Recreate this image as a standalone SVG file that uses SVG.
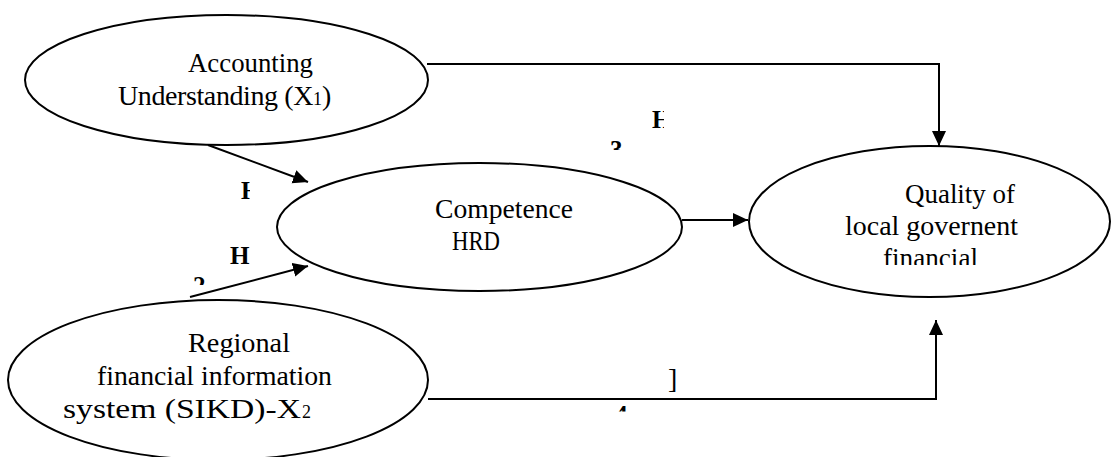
<svg xmlns="http://www.w3.org/2000/svg" width="1111" height="457" viewBox="0 0 1111 457">
<style>
.node ellipse{fill:#fff;stroke:#000;stroke-width:2}
.lbl{font-family:"Liberation Serif",serif;font-size:28px;fill:#000}
.hl{font-family:"Liberation Serif",serif;font-size:25px;font-weight:bold;fill:#000}
.conn{fill:none;stroke:#000;stroke-width:2}
</style>
<defs>
<marker id="arr" markerUnits="userSpaceOnUse" markerWidth="16" markerHeight="16" viewBox="0 0 16 16" refX="15" refY="8" orient="auto">
<path d="M0,1 L15,8 L0,15 Z" fill="#000"/>
</marker>
<clipPath id="c1"><rect x="230" y="170" width="20" height="40"/></clipPath>
<clipPath id="c3"><rect x="185" y="270" width="30" height="15"/></clipPath>
<clipPath id="c4"><rect x="645" y="100" width="19" height="40"/></clipPath>
<clipPath id="c5"><rect x="600" y="135" width="30" height="15"/></clipPath>
<clipPath id="c7"><rect x="605" y="401" width="30" height="10.5"/></clipPath>
<clipPath id="cq"><rect x="820" y="175" width="230" height="90"/></clipPath>
</defs>
<g id="connectors">
<path class="conn" d="M427,64 H939 V146" marker-end="url(#arr)"/>
<line class="conn" x1="208" y1="145" x2="308" y2="182" marker-end="url(#arr)"/>
<line class="conn" x1="190" y1="297" x2="308" y2="266" marker-end="url(#arr)"/>
<line class="conn" x1="682" y1="220" x2="748" y2="220" marker-end="url(#arr)"/>
<path class="conn" d="M428,399 H936 V320" marker-end="url(#arr)"/>
</g>
<g id="node-accounting" class="node">
<ellipse cx="226.5" cy="80" rx="201.5" ry="65"/>
<text class="lbl" x="188" y="72" textLength="125" lengthAdjust="spacingAndGlyphs">Accounting</text>
<text class="lbl" x="118" y="105" letter-spacing="-0.4">Understanding (X<tspan font-size="18" letter-spacing="0">1</tspan><tspan letter-spacing="0">)</tspan></text>
</g>
<g id="node-competence" class="node">
<ellipse cx="479.5" cy="227" rx="202.5" ry="64"/>
<text class="lbl" x="435" y="218" textLength="138" lengthAdjust="spacingAndGlyphs">Competence</text>
<text class="lbl" x="452" y="250" textLength="48" lengthAdjust="spacingAndGlyphs">HRD</text>
</g>
<g id="node-quality" class="node">
<ellipse cx="929.5" cy="221.5" rx="180.5" ry="75.5"/>
<g clip-path="url(#cq)">
<text class="lbl" x="905" y="203" textLength="110" lengthAdjust="spacingAndGlyphs">Quality of</text>
<text class="lbl" x="845" y="235" textLength="173" lengthAdjust="spacingAndGlyphs">local governent</text>
<text class="lbl" x="883" y="267" textLength="95" lengthAdjust="spacingAndGlyphs">financial</text>
</g>
</g>
<g id="node-sikd" class="node">
<ellipse cx="218" cy="380" rx="210" ry="80"/>
<text class="lbl" x="188" y="352" textLength="102" lengthAdjust="spacingAndGlyphs">Regional</text>
<text class="lbl" x="97" y="385" textLength="235" lengthAdjust="spacingAndGlyphs">financial information</text>
<text class="lbl" x="63" y="418"><tspan x="63" textLength="238" lengthAdjust="spacingAndGlyphs">system (SIKD)-X</tspan><tspan x="302" font-size="18">2</tspan></text>
</g>
<g id="labels">
<text class="hl" x="241" y="199" clip-path="url(#c1)">H</text>
<text class="hl" x="230" y="264">H</text>
<text class="hl" x="193" y="294" clip-path="url(#c3)">2</text>
<text class="hl" x="652" y="128" clip-path="url(#c4)">H</text>
<text class="hl" x="610" y="158" clip-path="url(#c5)">3</text>
<text class="lbl" x="668" y="388" font-size="20">]</text>
<text class="hl" x="615" y="423" clip-path="url(#c7)">4</text>
</g>
</svg>
